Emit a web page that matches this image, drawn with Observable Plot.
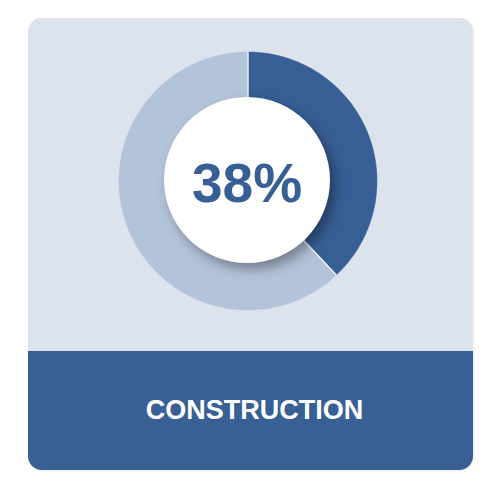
<!DOCTYPE html>
<html>
<head>
<meta charset="utf-8">
<script src="https://cdn.jsdelivr.net/npm/d3@7"></script>
<script src="https://cdn.jsdelivr.net/npm/@observablehq/plot@0.6"></script>
<style>
  html, body { margin: 0; padding: 0; background: #ffffff; }
  #wrap { position: relative; width: 492px; height: 493px; overflow: hidden; font-family: "Liberation Sans", Arial, sans-serif; }
  #card { position: absolute; left: 28px; top: 18px; width: 445px; height: 452px; border-radius: 14px; background: #dce3ed; overflow: hidden; box-shadow: 1px 1px 3px rgba(0,0,0,0.08); }
  #band { position: absolute; left: 0; top: 333px; width: 445px; height: 119px; background: #386095; color: #ffffff; font-weight: bold; font-size: 27px; display: flex; align-items: center; justify-content: center; padding-left: 8px; box-sizing: border-box; }
  #chart { position: absolute; left: 0; top: 0; }
  #chart svg { overflow: visible; }
</style>
</head>
<body>
<div id="wrap">
  <div id="card"><div id="band"></div></div>
  <div id="chart"></div>
</div>
<script>
// ---- data ----
const category = ["CONSTRUCTION"];
const segments = ["Share", "Remainder"];
const values = [38, 62];
const colors = ["#375f95", "#b3c3da"];
const label = "38%";

// ---- build slice outlines from the pie layout ----
const pie = d3.pie().sort(null).value(d => d.value);
const arcs = pie(segments.map((s, i) => ({segment: s, value: values[i], color: colors[i]})));
const outerR = 1, innerR = 0.55, steps = 160;
const pts = [];
for (const a of arcs) {
  const n = Math.max(2, Math.ceil(steps * (a.endAngle - a.startAngle) / (2 * Math.PI)));
  for (let k = 0; k <= n; k++) {
    const t = a.startAngle + (a.endAngle - a.startAngle) * k / n;
    pts.push({segment: a.data.segment, x: outerR * Math.sin(t), y: outerR * Math.cos(t)});
  }
  for (let k = n; k >= 0; k--) {
    const t = a.startAngle + (a.endAngle - a.startAngle) * k / n;
    pts.push({segment: a.data.segment, x: innerR * Math.sin(t), y: innerR * Math.cos(t)});
  }
}
// separators at each slice boundary
const seps = arcs.map(a => ({
  x1: innerR * Math.sin(a.startAngle), y1: innerR * Math.cos(a.startAngle),
  x2: outerR * Math.sin(a.startAngle), y2: outerR * Math.cos(a.startAngle)
}));

document.getElementById("band").textContent = category[0];

const chart = Plot.plot({
  width: 492,
  height: 493,
  margin: 0,
  axis: null,
  style: {background: "transparent", overflow: "visible"},
  x: {domain: [-1, 1], range: [118.5, 376.5]},
  y: {domain: [-1, 1], range: [309.5, 51.5]},
  color: {domain: segments, range: colors},
  marks: [
    Plot.line(pts, {x: "x", y: "y", z: "segment", fill: "segment", stroke: "segment", strokeWidth: 0.5, curve: "linear-closed"}),
    Plot.link(seps, {x1: "x1", y1: "y1", x2: "x2", y2: "y2", stroke: "#ffffff", strokeWidth: 1.2}),
    Plot.dot([{x: 0, y: 0}], {x: "x", y: "y", r: 83, fill: "#ffffff", stroke: "none", dx: -1, dy: -1,
      render(index, scales, values, dims, context, next) {
        const g = next(index, scales, values, dims, context);
        g.style.filter = "drop-shadow(5px 6px 6px rgba(0,0,0,0.35))";
        return g;
      }}),
    Plot.text([{x: 0, y: 0, t: label}], {x: "x", y: "y", text: "t", fontSize: 55, fontWeight: "bold", fill: "#375f95", fontFamily: "Liberation Sans, Arial, sans-serif", dx: -1, dy: 3})
  ]
});
document.getElementById("chart").appendChild(chart);
</script>
</body>
</html>
